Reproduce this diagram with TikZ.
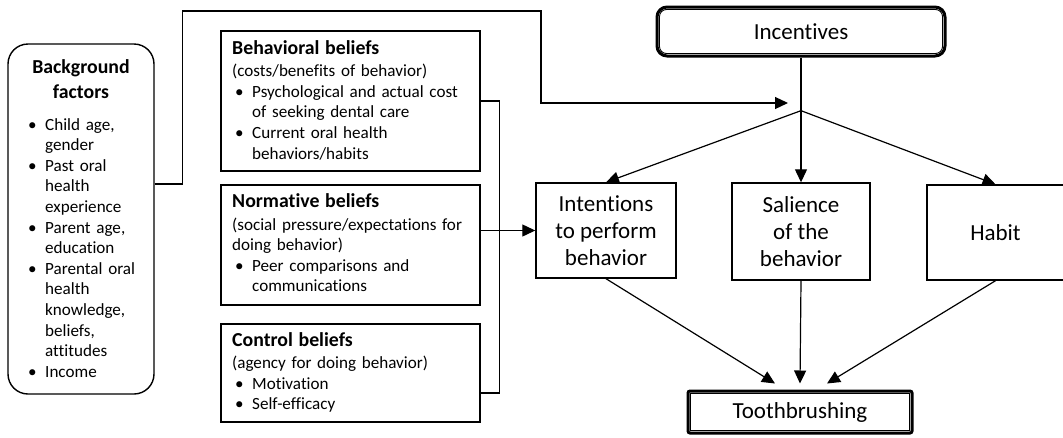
\documentclass[tikz,border=0pt]{standalone}
\usepackage{fontspec}
\setmainfont{Carlito}[Ligatures=NoCommon]
\usetikzlibrary{arrows.meta,calc}

\newlength{\bulw}\newlength{\buloff}
\newcommand{\ttlfont}{\fontsize{19.8}{25}\selectfont\bfseries}
\newcommand{\bodyfont}{\fontsize{17.1}{20.6}\selectfont}
\newcommand{\bigfont}{\fontsize{23}{27}\selectfont}
\newcommand{\btitle}[1]{{\ttlfont #1\par}\vspace{2pt}}
\newcommand{\bitem}[1]{\par\hangindent=\bulw\hangafter=1\noindent\makebox[\bulw][l]{\hspace{\buloff}\textbullet}#1}

\begin{document}
\begin{tikzpicture}[x=1pt,y=-1pt,
  conn/.style={line width=1.2pt},
  arr/.style={conn,-{Triangle[length=13pt,width=12pt]}},
  plainbox/.style={draw,line width=1.4pt,inner sep=0pt},
  bigbox/.style={plainbox,align=center,font=\bigfont},
  txt/.style={inner sep=0pt,anchor=base west,text width=#1,font=\bodyfont},
  txt/.default=250pt]
\useasboundingbox (0,0) rectangle (1063,437);

% Background factors
\node[plainbox,rounded corners=20pt,minimum width=146pt,minimum height=350pt] (bg) at (81,219) {};
\node[inner sep=0pt,anchor=base,align=center,text width=140pt,font=\ttlfont] (bgt) at (81,73) {Background\\factors};
\node[txt=122pt] (bgl) at (28,130) {\setlength{\bulw}{17pt}\setlength{\buloff}{0pt}\rightskip=0pt plus 1fil
\hangindent=\bulw\hangafter=1\noindent\makebox[\bulw][l]{\textbullet}Child age,\newline gender
\bitem{Past oral\newline health\newline experience}
\bitem{Parent age,\newline education}
\bitem{Parental oral\newline health\newline knowledge,\newline beliefs,\newline attitudes}
\bitem{Income}\par};

% Belief boxes
\node[plainbox,minimum width=259pt,minimum height=140pt] (beh) at (350.5,101) {};
\node[plainbox,minimum width=259pt,minimum height=120pt] (norm) at (350.5,245) {};
\node[plainbox,minimum width=259pt,minimum height=98pt] (ctrl) at (350.5,373) {};

\node[txt] (beht) at (232,54) {\setlength{\bulw}{20pt}\setlength{\buloff}{3pt}\rightskip=0pt plus 1fil
\btitle{Behavioral beliefs}
\noindent(costs/benefits of behavior)
\bitem{Psychological and actual cost\newline of seeking dental care}
\bitem{Current oral health\newline behaviors/habits}\par};

\node[txt] (normt) at (232,207.5) {\setlength{\bulw}{20pt}\setlength{\buloff}{3pt}\rightskip=0pt plus 1fil
\btitle{Normative beliefs}
\noindent(social pressure/expectations for\newline doing behavior)
\bitem{Peer comparisons and\newline communications}\par};

\node[txt] (ctrlt) at (232,346) {\setlength{\bulw}{20pt}\setlength{\buloff}{3pt}\rightskip=0pt plus 1fil
\btitle{Control beliefs}
\noindent(agency for doing behavior)
\bitem{Motivation}
\bitem{Self-efficacy}\par};

% Right side
\node[bigbox,line width=3pt,rounded corners=10pt,minimum width=288pt,minimum height=49pt] (inc) at (801,31.5) {Incentives};
\draw[line width=0.9pt,rounded corners=7pt] ([shift={(4,4)}]inc.north west) rectangle ([shift={(-4,-4)}]inc.south east);

\node[bigbox,minimum width=140pt,minimum height=95pt] (int) at (606,230.5) {Intentions\\to perform\\behavior};
\node[bigbox,minimum width=138pt,minimum height=97pt] (sal) at (801,231.5) {Salience\\of the\\behavior};
\node[bigbox,minimum width=137pt,minimum height=95pt] (hab) at (995.5,232.5) {Habit};

\node[bigbox,line width=3pt,rounded corners=2pt,minimum width=224pt,minimum height=42pt] (tooth) at (800,412) {Toothbrushing};
\draw[line width=0.9pt] ([shift={(4,4)}]tooth.north west) rectangle ([shift={(-4,-4)}]tooth.south east);

% Connectors
\coordinate (tb) at (541,11);
\coordinate (inarrow) at (788,103);
\draw[arr] ([yshift=35pt]bg.east) -- ++(28,0) |- (tb) -- (tb |- inarrow) -- (inarrow);

\coordinate (J) at ($(inc.south)!0.426!(sal.north)$);
\draw[conn] (inc.south) -- (J);
\draw[arr] (J) -- (sal.north);
\draw[arr] (J) -- (int.north);
\draw[arr] (J) -- (hab.north);

\draw[conn] (beh.east) -- ++(19,0) |- ([yshift=-20pt]ctrl.east);
\draw[arr] (norm.east |- int.west) -- (int.west);

\draw[arr] (int.south) -- ([xshift=-25pt,yshift=6pt]tooth.north);
\draw[arr] (sal.south) -- ([yshift=6pt]tooth.north);
\draw[arr] (hab.south) -- ([xshift=27pt,yshift=6pt]tooth.north);
\end{tikzpicture}
\end{document}
